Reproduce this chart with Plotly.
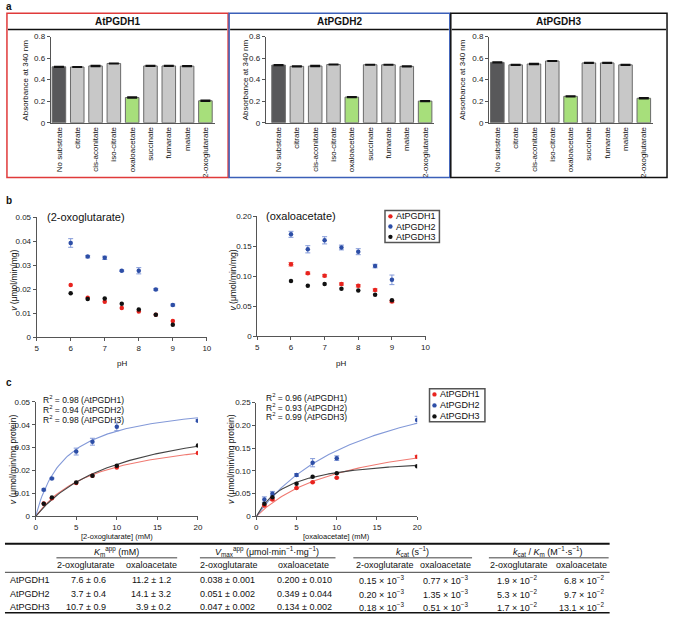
import numpy as np
import plotly.graph_objects as go

W, H = 675, 619
FONT = "Arial, Liberation Sans, sans-serif"

# ---- panel a: absorbance at 340 nm with different substrates
substrates = ["No substrate", "citrate", "cis-aconitate", "iso-citrate", "oxaloacetate",
              "succinate", "fumarate", "malate", "2-oxoglutarate"]
abs_pgdh1 = [0.519, 0.517, 0.527, 0.550, 0.234, 0.527, 0.527, 0.525, 0.204]
abs_pgdh2 = [0.535, 0.523, 0.526, 0.540, 0.238, 0.538, 0.538, 0.523, 0.201]
abs_pgdh3 = [0.560, 0.537, 0.545, 0.573, 0.245, 0.555, 0.555, 0.537, 0.227]
abs_err = [0.004, 0.003, 0.004, 0.003, 0.004, 0.003, 0.003, 0.003, 0.004]
enzymes = ["AtPGDH1", "AtPGDH2", "AtPGDH3"]

# ---- panel b: pH dependence
ph = [6, 6.5, 7, 7.5, 8, 8.5, 9]
og_ph_1 = [0.0217, 0.0164, 0.0148, 0.0121, 0.0107, 0.0093, 0.0067]
og_ph_2 = [0.0393, 0.0336, 0.0331, 0.0277, 0.0277, 0.0199, 0.0134]
og_ph_3 = [0.0183, 0.0159, 0.0161, 0.0139, 0.0115, 0.0093, 0.0052]
og_ph_2_err = [0.0018, 0.0005, 0.0007, 0.0003, 0.0013, 0.0004, 0.0004]
oaa_ph_1 = [0.120, 0.105, 0.101, 0.087, 0.084, 0.077, 0.058]
oaa_ph_2 = [0.170, 0.145, 0.160, 0.148, 0.141, 0.117, 0.094]
oaa_ph_3 = [0.092, 0.084, 0.087, 0.079, 0.076, 0.069, 0.060]
oaa_ph_1_err = [0.003, 0.002, 0.002, 0.002, 0.002, 0.002, 0.002]
oaa_ph_2_err = [0.005, 0.006, 0.006, 0.004, 0.005, 0.003, 0.008]

# ---- panel c: substrate saturation
conc = [1, 2, 5, 7, 10, 20]
og_v_1 = [0.0056, 0.0079, 0.0146, 0.0177, 0.0213, 0.0277]
og_v_2 = [0.0116, 0.0166, 0.0283, 0.0326, 0.0391, 0.0418]
og_v_3 = [0.0055, 0.0083, 0.0148, 0.0178, 0.0221, 0.0309]
og_v_2_err = [0.0004, 0.0003, 0.0015, 0.0015, 0.0017, 0.0004]
oaa_v_1 = [0.024, 0.037, 0.0625, 0.075, 0.085, 0.131]
oaa_v_2 = [0.037, 0.050, 0.091, 0.118, 0.128, 0.212]
oaa_v_3 = [0.028, 0.042, 0.072, 0.087, 0.095, 0.110]
oaa_v_1_err = [0.002, 0.002, 0.001, 0.001, 0.001, 0.003]
oaa_v_2_err = [0.006, 0.005, 0.003, 0.009, 0.005, 0.008]
r2_og = [0.98, 0.94, 0.98]
r2_oaa = [0.96, 0.93, 0.99]

# ---- kinetic table
km_og = [7.6, 3.7, 10.7]
km_og_sd = [0.6, 0.4, 0.9]
km_oaa = [11.2, 14.1, 3.9]
km_oaa_sd = [1.2, 3.2, 0.2]
vmax_og = [0.038, 0.051, 0.047]
vmax_og_sd = [0.001, 0.002, 0.002]
vmax_oaa = [0.200, 0.349, 0.134]
vmax_oaa_sd = [0.010, 0.044, 0.002]
kcat_og = [0.15, 0.20, 0.18]      # x 10^-3
kcat_oaa = [0.77, 1.35, 0.51]     # x 10^-3
eff_og = [1.9, 5.3, 1.7]          # x 10^-2
eff_oaa = [6.8, 9.7, 13.1]        # x 10^-2

RED, BLUE, BLACK = "#e8231e", "#2d4ea6", "#111111"
RED_L, BLUE_L, BLACK_L = "#f07a72", "#8399d8", "#444444"
DOTS = [RED, BLUE, BLACK]


def xd(a, b):
    return [a / W, b / W]


def yd(top, bottom):
    return [1 - bottom / H, 1 - top / H]


axis = dict(showline=True, linecolor="#555", linewidth=1, ticks="outside", ticklen=3,
            tickcolor="#555", tickfont=dict(size=8, color="#222", family=FONT),
            showgrid=False, zeroline=False, fixedrange=True)

fig = go.Figure()

# ---- panel a bars
bar_fill = ["#58585a"] + ["#c8c8c8"] * 3 + ["#a7df7b"] + ["#c8c8c8"] * 3 + ["#a7df7b"]
for i, vals in enumerate([abs_pgdh1, abs_pgdh2, abs_pgdh3]):
    n = "" if i == 0 else str(i + 1)
    fig.add_trace(go.Bar(
        x=substrates, y=vals, width=0.74,
        marker=dict(color=bar_fill, line=dict(color="#6a6a6a", width=1)),
        error_y=dict(type="data", array=abs_err, color="#111", thickness=1.5, width=5),
        xaxis="x" + n, yaxis="y" + n, showlegend=False
    ))

# ---- panel b scatter
def pts(x, y, color, err=None, errcolor=None, xa="x4", ya="y4"):
    fig.add_trace(go.Scatter(
        x=x, y=y, mode="markers",
        marker=dict(color=color, size=4.5),
        error_y=dict(type="data", array=err, color=errcolor, thickness=1, width=2.5)
        if err else None,
        xaxis=xa, yaxis=ya, showlegend=False
    ))


pts(ph, og_ph_1, RED, xa="x4", ya="y4")
pts(ph, og_ph_2, BLUE, og_ph_2_err, BLUE_L, "x4", "y4")
pts(ph, og_ph_3, BLACK, xa="x4", ya="y4")
pts(ph, oaa_ph_1, RED, oaa_ph_1_err, RED_L, "x5", "y5")
pts(ph, oaa_ph_2, BLUE, oaa_ph_2_err, BLUE_L, "x5", "y5")
pts(ph, oaa_ph_3, BLACK, xa="x5", ya="y5")

# ---- panel c: Michaelis-Menten fits (from table Km / Vmax) and points
s = np.linspace(0, 20, 101)
for xa, ya, kms, vms in [("x6", "y6", km_og, vmax_og), ("x7", "y7", km_oaa, vmax_oaa)]:
    for km, vm, c in zip(kms, vms, [RED_L, BLUE_L, BLACK_L]):
        fig.add_trace(go.Scatter(x=s, y=vm * s / (km + s), mode="lines",
                                 line=dict(color=c, width=1.1), xaxis=xa, yaxis=ya,
                                 showlegend=False, hoverinfo="skip"))

pts(conc, og_v_1, RED, xa="x6", ya="y6")
pts(conc, og_v_2, BLUE, og_v_2_err, BLUE_L, "x6", "y6")
pts(conc, og_v_3, BLACK, xa="x6", ya="y6")
pts(conc, oaa_v_1, RED, oaa_v_1_err, RED_L, "x7", "y7")
pts(conc, oaa_v_2, BLUE, oaa_v_2_err, BLUE_L, "x7", "y7")
pts(conc, oaa_v_3, BLACK, xa="x7", ya="y7")

# ---- axes
layout = {}
bar_dom = [(49.2, 214.8, -0.45), (266.5, 436.8, -0.7), (492.2, 657.8, -0.45)]
for i, (a, b, r0) in enumerate(bar_dom):
    n = "" if i == 0 else str(i + 1)
    layout["xaxis" + n] = dict(axis, domain=xd(a, b), range=[r0, 8.5], anchor="y" + n,
                               ticks="", tickangle=-90, type="category",
                               tickfont=dict(size=8, color="#111", family=FONT))
    layout["yaxis" + n] = dict(axis, domain=yd(33, 120.5), range=[0, 0.8], anchor="x" + n,
                               tickvals=[0, 0.2, 0.4, 0.6, 0.8],
                               ticktext=["0", "0.2", "0.4", "0.6", "0.8"])

layout["xaxis4"] = dict(axis, domain=xd(35, 207), range=[5, 10], anchor="y4", dtick=1)
layout["yaxis4"] = dict(axis, domain=yd(216.5, 338), range=[0, 0.05], anchor="x4",
                        tickvals=[0, 0.01, 0.02, 0.03, 0.04, 0.05],
                        ticktext=["0", "0.01", "0.02", "0.03", "0.04", "0.05"])
layout["xaxis5"] = dict(axis, domain=xd(258, 428), range=[5, 10], anchor="y5", dtick=1)
layout["yaxis5"] = dict(axis, domain=yd(215.5, 337), range=[0, 0.2], anchor="x5",
                        tickvals=[0, 0.05, 0.1, 0.15, 0.2],
                        ticktext=["0", "0.05", "0.10", "0.15", "0.20"])
layout["xaxis6"] = dict(axis, domain=xd(34, 198), range=[0, 20], anchor="y6", dtick=5)
layout["yaxis6"] = dict(axis, domain=yd(403.7, 520), range=[0, 0.05], anchor="x6",
                        tickvals=[0, 0.01, 0.02, 0.03, 0.04, 0.05],
                        ticktext=["0", "0.01", "0.02", "0.03", "0.04", "0.05"])
layout["xaxis7"] = dict(axis, domain=xd(257, 419.5), range=[0, 20], anchor="y7", dtick=5)
layout["yaxis7"] = dict(axis, domain=yd(404.5, 520), range=[0, 0.25], anchor="x7",
                        tickvals=[0, 0.05, 0.1, 0.15, 0.2, 0.25],
                        ticktext=["0", "0.05", "0.10", "0.15", "0.20", "0.25"])

# ---- annotations
ann = []


def text(x, y, t, size=9, xanchor="center", bold=False, angle=0, color="#111"):
    ann.append(dict(x=x / W, y=1 - y / H, xref="paper", yref="paper", text=t,
                    showarrow=False, xanchor=xanchor, yanchor="middle", textangle=angle,
                    font=dict(size=size, family=FONT, color=color,
                              weight="bold" if bold else "normal")))


text(2, 3, "a", 10, "left", True)
text(2, 199, "b", 10, "left", True)
text(2, 384, "c", 10, "left", True)

box_x = [(5, 228.5), (229.5, 452.5), (453.5, 672)]
for (a, b), name in zip(box_x, enzymes):
    text((a + b) / 2, 17.5, name, 10, bold=True)
for cx in [24, 246, 466]:
    text(cx, 77, "Absorbance at 340 nm", 8, angle=-90)

text(43, 216, "(2-oxoglutarate)", 11, "left")
text(265, 215, "(oxaloacetate)", 11, "left")
text(121, 365, "pH", 8)
text(343, 365, "pH", 8)
text(12, 280, "<i>v</i> (μmol/min/mg)", 8.5, angle=-90)
text(233, 280, "<i>v</i> (μmol/min/mg)", 8.5, angle=-90)

text(11, 462, "<i>v</i> (μmol/min/mg protein)", 8.5, angle=-90)
text(232, 462, "<i>v</i> (μmol/min/mg protein)", 8.5, angle=-90)
text(116, 540, "[2-oxoglutarate] (mM)", 7.5)
text(338, 540, "[oxaloacetate] (mM)", 7.5)
for i, name in enumerate(enzymes):
    text(39, 401.5 + 10 * i, f"R<sup>2</sup> = {r2_og[i]:.2f} ({name})", 8.5, "left")
    text(265, 399 + 10 * i, f"R<sup>2</sup> = {r2_oaa[i]:.2f} ({name})", 8.5, "left")

# table
text(116, 556, "<i>K</i><sub>m</sub><sup>app</sup> (mM)", 9)
text(268, 556, "<i>V</i><sub>max</sub><sup>app</sup> (μmol·min<sup>−1</sup>·mg<sup>−1</sup>)", 9)
text(415, 556, "<i>k</i><sub>cat</sub> (s<sup>−1</sup>)", 9)
text(552, 556, "<i>k</i><sub>cat</sub> / <i>K</i><sub>m</sub> (M<sup>−1</sup>·s<sup>−1</sup>)", 9)
for cx, lab in zip([85, 151, 229, 305, 387, 448, 522, 586],
                   ["2-oxoglutarate", "oxaloacetate"] * 4):
    text(cx, 569.5, lab, 9)
row_y = [584.3, 598.5, 612.3]
right_x = [107, 173, 258, 335, 408, 473, 543, 610]
for i, name in enumerate(enzymes):
    y = row_y[i]
    text(6, y, name, 9, "left")
    cells = [f"{km_og[i]:.1f} ± {km_og_sd[i]:.1f}",
             f"{km_oaa[i]:.1f} ± {km_oaa_sd[i]:.1f}",
             f"{vmax_og[i]:.3f} ± {vmax_og_sd[i]:.3f}",
             f"{vmax_oaa[i]:.3f} ± {vmax_oaa_sd[i]:.3f}",
             f"{kcat_og[i]:.2f} × 10<sup>−3</sup>",
             f"{kcat_oaa[i]:.2f} × 10<sup>−3</sup>",
             f"{eff_og[i]:.1f} × 10<sup>−2</sup>",
             f"{eff_oaa[i]:.1f} × 10<sup>−2</sup>"]
    for rx, c in zip(right_x, cells):
        text(rx, y, c, 9, "right")

# ---- shapes: panel a boxes, legends, table rules
shapes = []


def rect(x0, y0, x1, y1, color, w=1.5):
    shapes.append(dict(type="rect", xref="paper", yref="paper", x0=x0 / W, x1=x1 / W,
                       y0=1 - y1 / H, y1=1 - y0 / H, line=dict(color=color, width=w)))


def hline(x0, x1, y, w=1, color="#111"):
    shapes.append(dict(type="line", xref="paper", yref="paper", x0=x0 / W, x1=x1 / W,
                       y0=1 - y / H, y1=1 - y / H, line=dict(color=color, width=w)))


def dot(x, y, color, r=2.2):
    shapes.append(dict(type="circle", xref="paper", yref="paper",
                       x0=(x - r) / W, x1=(x + r) / W, y0=1 - (y + r) / H, y1=1 - (y - r) / H,
                       fillcolor=color, line=dict(width=0)))


for (a, b), col in zip(box_x, ["#e03a3a", "#3b5fb8", "#111111"]):
    rect(a, 9.5, b, 176, col)
    hline(a + 1, b - 1, 26, 1.5)

# legends (b and c)
for (x0, y0, x1, y1), ys, dx in [((387, 209.5, 442, 242), [215.5, 225.8, 236.3], 392.5),
                                 ((432, 390.5, 488, 424), [396.2, 407.3, 418.5], 437)]:
    rect(x0, y0, x1, y1, "#555", 1.5)
    for yy, name, c in zip(ys, enzymes, DOTS):
        dot(dx, yy, c)
        text(dx + 4, yy, name, 9, "left")

hline(3, 614, 547.7, 2)
for a, b in [(55, 177), (200, 337), (355, 475), (492, 613)]:
    hline(a, b, 562, 0.8)
hline(3, 614, 576.7, 0.8)
hline(3, 614, 617.8, 1.6)

fig.update_layout(
    width=W, height=H, autosize=False,
    margin=dict(l=0, r=0, t=0, b=0),
    paper_bgcolor="white", plot_bgcolor="white",
    font=dict(family=FONT, color="#111"),
    showlegend=False,
    annotations=ann, shapes=shapes,
    **layout
)

# drop the browser's default 8px body margin so the figure sits at the page corner
fig.write_html("out.html", config={"displayModeBar": False},
               post_script="document.body.style.margin='0px';")
